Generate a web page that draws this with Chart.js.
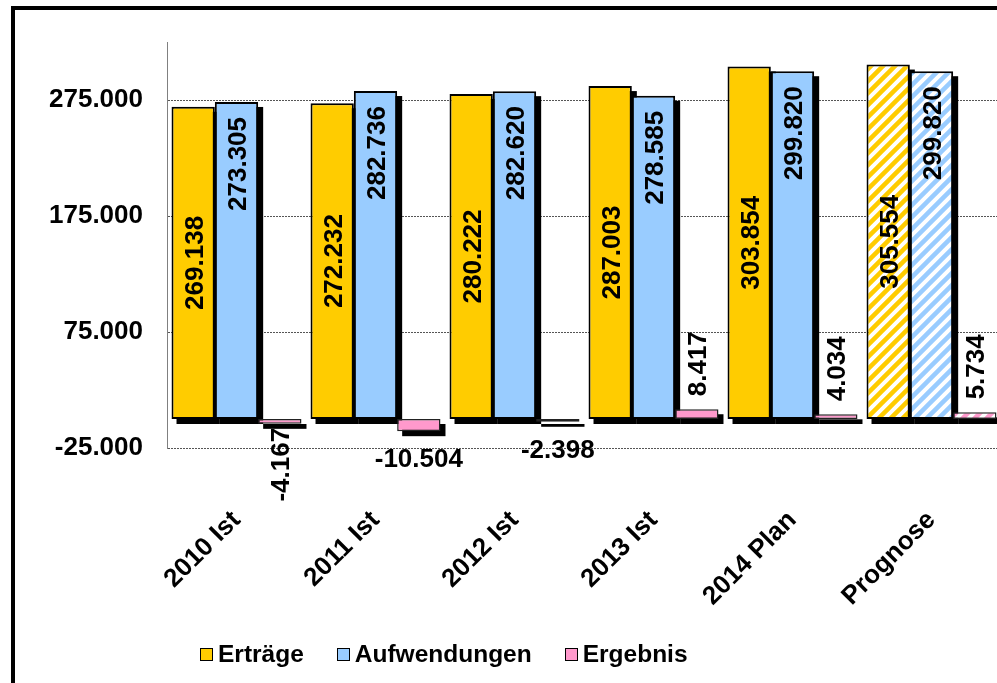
<!DOCTYPE html>
<html lang="de">
<head>
<meta charset="utf-8">
<title>Erträge, Aufwendungen und Ergebnis</title>
<script src="https://cdn.jsdelivr.net/npm/chart.js@4.4.1/dist/chart.umd.min.js"></script>
<style>
html,body{margin:0;padding:0;background:#fff;overflow:hidden}
#frame{position:absolute;left:11px;top:6px;width:1000px;height:690px;border:4px solid #000}
#chart{position:absolute;left:0;top:0}
#legend{position:absolute;left:185px;top:630px;display:flex;gap:33px;font:bold 24.5px "Liberation Sans",Arial,sans-serif;color:#000}
#legend span{display:flex;align-items:center}
#legend i{display:inline-block;width:11px;height:11px;border:1.5px solid #000;margin-right:5px}
</style>
</head>
<body>
<div id="frame">
  <canvas id="chart" width="1000" height="680"></canvas>
  <div id="legend"></div>
</div>
<script>
const categories = ["2010 Ist", "2011 Ist", "2012 Ist", "2013 Ist", "2014 Plan", "Prognose"];
const ertraege = [269138, 272232, 280222, 287003, 303854, 305554];
const aufwendungen = [273305, 282736, 282620, 278585, 299820, 299820];
const ergebnis = [-4167, -10504, -2398, 8417, 4034, 5734];
const yTicks = [-25000, 75000, 175000, 275000];
const yMin = -25000, yMax = 325000;

const hatched = ["Prognose"];
const COLORS = { ert: "#FFCC00", auf: "#99CCFF", erg: "#FF99CC" };
const FONT = '"Liberation Sans", Arial, sans-serif';

// 1.234.567 style numbers
const fmt = v => (v < 0 ? "-" : "") + Math.abs(v).toString().replace(/\B(?=(\d{3})+(?!\d))/g, ".");

function hatch(color){
  const c = document.createElement("canvas"); c.width = c.height = 12;
  const g = c.getContext("2d");
  g.fillStyle = "#fff"; g.fillRect(0, 0, 12, 12);
  g.strokeStyle = color; g.lineWidth = 4.5;
  g.beginPath();
  g.moveTo(-6, 6); g.lineTo(6, -6);
  g.moveTo(0, 12); g.lineTo(12, 0);
  g.moveTo(6, 18); g.lineTo(18, 6);
  g.stroke();
  return g.createPattern(c, "repeat");
}
const fills = color => categories.map(c => hatched.includes(c) ? hatch(color) : color);

// black drop shadow behind every bar
const shadowPlugin = {
  id: "barShadow",
  beforeDatasetsDraw(chart){
    const ctx = chart.ctx;
    ctx.save(); ctx.fillStyle = "#000";
    chart.data.datasets.forEach((ds, di) => {
      chart.getDatasetMeta(di).data.forEach(bar => {
        const { x, y, base, width } = bar.getProps(["x", "y", "base", "width"], true);
        ctx.fillRect(x - width / 2 + 5, Math.min(y, base) + 5, width, Math.abs(base - y));
      });
    });
    ctx.restore();
  }
};

// Ergebnis 2011/2012 are written flat under the bar
const flatLabels = new Set([1, 2]);

function vText(ctx, text, x, y, align){
  ctx.save(); ctx.translate(x, y); ctx.rotate(-Math.PI / 2);
  ctx.textAlign = align; ctx.textBaseline = "alphabetic";
  ctx.fillText(text, 0, 9.5);
  ctx.restore();
}

const labelPlugin = {
  id: "valueLabels",
  afterDatasetsDraw(chart){
    const ctx = chart.ctx;
    ctx.save();
    ctx.font = "bold 26px " + FONT; ctx.fillStyle = "#000";
    chart.data.datasets.forEach((ds, di) => {
      chart.getDatasetMeta(di).data.forEach((bar, i) => {
        const v = ds.data[i];
        const { x, y, base } = bar.getProps(["x", "y", "base"], true);
        const t = fmt(v);
        if (di === 0) vText(ctx, t, x, (y + base) / 2, "center");
        else if (di === 1) vText(ctx, t, x, y + 15, "right");
        else if (v >= 0) vText(ctx, t, x, y - 13, "left");
        else if (flatLabels.has(i)) {
          ctx.textAlign = "center"; ctx.textBaseline = "alphabetic";
          ctx.fillText(t, x, y + 36);
        } else vText(ctx, t, x, y + 4, "right");
      });
    });
    ctx.restore();
  }
};

const chart = new Chart(document.getElementById("chart"), {
  type: "bar",
  data: {
    labels: categories,
    datasets: [
      { label: "Erträge", data: ertraege, backgroundColor: fills(COLORS.ert), borderColor: "#000", borderWidth: 2, borderSkipped: false, legendColor: COLORS.ert },
      { label: "Aufwendungen", data: aufwendungen, backgroundColor: fills(COLORS.auf), borderColor: "#000", borderWidth: 2, borderSkipped: false, legendColor: COLORS.auf },
      { label: "Ergebnis", data: ergebnis, backgroundColor: fills(COLORS.erg), borderColor: "#222", borderWidth: 1.5, borderSkipped: false, legendColor: COLORS.erg }
    ]
  },
  options: {
    responsive: false,
    animation: false,
    categoryPercentage: 0.935,
    barPercentage: 1,
    layout: { padding: { top: 32, right: 14, left: 0, bottom: 62 } },
    plugins: { legend: { display: false }, tooltip: { enabled: false } },
    scales: {
      x: {
        grid: { display: false },
        border: { display: false },
        ticks: { font: { family: FONT, size: 26, weight: "bold" }, color: "#000", minRotation: 45, maxRotation: 45, autoSkip: false, padding: 49 },
        afterFit: s => { s.height = 180; }
      },
      y: {
        min: yMin, max: yMax,
        grid: { color: "#555", lineWidth: 1, drawTicks: false },
        border: { display: true, color: "#808080", width: 1, dash: [2, 1] },
        ticks: { font: { family: FONT, size: 26, weight: "bold" }, color: "#000", padding: 24, callback: v => fmt(v) },
        afterBuildTicks: s => { s.ticks = yTicks.map(v => ({ value: v })); },
        afterFit: s => { s.width = 152; s.paddingTop = 0; s.paddingBottom = 0; }
      }
    }
  },
  plugins: [shadowPlugin, labelPlugin]
});

document.getElementById("legend").innerHTML = chart.data.datasets
  .map(ds => `<span><i style="background:${ds.legendColor}"></i>${ds.label}</span>`).join("");
</script>
</body>
</html>
